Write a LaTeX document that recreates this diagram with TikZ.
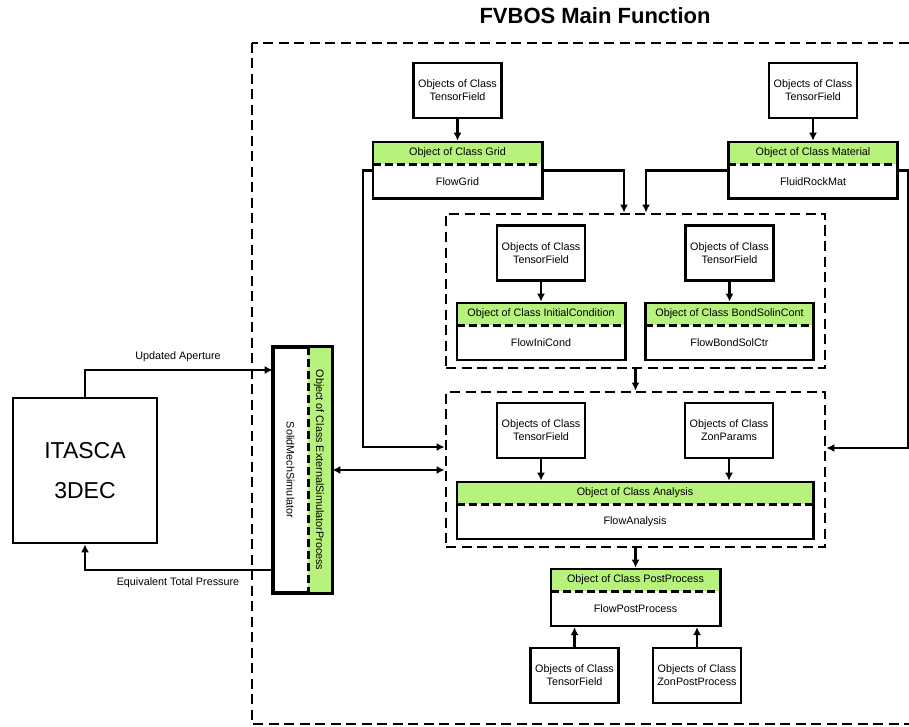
\documentclass[tikz,border=0pt]{standalone}
\usepackage{fontspec}
\setmainfont{Liberation Sans}
\usepackage{xcolor}
\usepackage{tikz}
\usetikzlibrary{positioning,fit,arrows.meta}

\definecolor{headgreen}{RGB}{182,242,124}

\tikzset{
    txt/.style={font=\fontsize{10.8}{13}\selectfont},
    objbox/.style={txt, draw, line width=2.6pt, fill=white, align=center,
        minimum width=88pt, minimum height=55pt, inner sep=2pt},
    clshead/.style={txt, fill=headgreen, minimum height=22pt, inner sep=0pt},
    clsbody/.style={txt, fill=white, minimum height=34pt, inner sep=0pt},
    boxline/.style={line width=2.6pt},
    sepline/.style={line width=2.6pt, dash pattern=on 8pt off 4pt},
    grpbox/.style={draw, line width=2.8pt, dash pattern=on 10pt off 5.5pt},
    link/.style={line width=2.5pt, -{Latex[length=8pt,width=8pt]}},
    dlink/.style={line width=2.5pt, {Latex[length=8pt,width=8pt]}-{Latex[length=8pt,width=8pt]}},
}

% class object: name, centre x, top y, width, class text, object text
\newcommand{\classobj}[6]{%
    \node[clshead, minimum width=#4, anchor=north] (#1h) at (#2,#3) {#5};
    \node[clsbody, minimum width=#4, below=0pt of #1h] (#1b) {#6};
    \draw[sepline] (#1h.south west) -- (#1h.south east);
    \node[draw, boxline, fit=(#1h)(#1b), inner sep=0pt] (#1) {};
}

\begin{document}
\begin{tikzpicture}[x=1pt,y=-1pt]
    \useasboundingbox (0,0) rectangle (909,727);

    % Title and main frame
    \node[font=\bfseries\fontsize{22}{26}\selectfont] (title) at (595,15.5) {FVBOS Main Function};
    \draw[grpbox] (252,43) rectangle (930,724);

    % Grid and material
    \node[objbox] (gridtf) at (457.5,90.5) {Objects of Class\\TensorField};
    \classobj{grid}{457.5}{142}{169pt}{Object of Class Grid}{FlowGrid}
    \node[objbox] (mattf) at (813,90.5) {Objects of Class\\TensorField};
    \classobj{mat}{813}{142}{169pt}{Object of Class Material}{FluidRockMat}

    % Initial and boundary conditions
    \node[grpbox, minimum width=379pt, minimum height=154pt] (initgrp) at (635.5,291) {};
    \node[objbox] (initf) at (541,253) {Objects of Class\\TensorField};
    \classobj{ini}{541}{303}{168pt}{Object of Class InitialCondition}{FlowIniCond}
    \node[objbox] (bsctf) at (729.5,253) {Objects of Class\\TensorField};
    \classobj{bsc}{729.5}{303}{168pt}{Object of Class BondSolinCont}{FlowBondSolCtr}

    % Analysis
    \node[grpbox, minimum width=379pt, minimum height=155pt] (anlgrp) at (635.5,469.5) {};
    \node[objbox] (antf) at (541,430.5) {Objects of Class\\TensorField};
    \node[objbox] (zontf) at (729,430.5) {Objects of Class\\ZonParams};
    \classobj{anl}{635}{482}{356pt}{Object of Class Analysis}{FlowAnalysis}

    % Post processing
    \classobj{post}{635.5}{569}{169pt}{Object of Class PostProcess}{FlowPostProcess}
    \node[objbox] (posttf) at (574.5,675.5) {Objects of Class\\TensorField};
    \node[objbox] (zonpost) at (697,675.5) {Objects of Class\\ZonPostProcess};

    % External simulator
    \node[draw, boxline, fill=white, minimum width=57pt, minimum height=244pt, inner sep=0pt] (esp) at (302.5,470) {};
    \fill[headgreen] ([xshift=-24pt]esp.north east) rectangle (esp.south east);
    \draw[boxline] (esp.north west) rectangle (esp.south east);
    \draw[sepline] ([xshift=-24pt]esp.north east) -- ([xshift=-24pt]esp.south east);
    \node[txt, rotate=-90] (espname) at ([xshift=-12pt]esp.center) {SolidMechSimulator};
    \node[txt, rotate=-90] (espcls) at ([xshift=16.5pt]esp.center) {Object of Class ExternalSimulatorProcess};

    % ITASCA
    \node[draw, boxline, minimum width=144pt, minimum height=145pt, align=center,
        font=\fontsize{23}{40}\selectfont] (itasca) at (85,470.5) {ITASCA\\3DEC};

    % Links
    \draw[link] (gridtf.south) -- (grid.north);
    \draw[link] (mattf.south) -- (mat.north);
    \draw[link] ([yshift=11pt]gridb.west) -- ++(-10,0) |- ([yshift=22.5pt]anlgrp.west);
    \draw[link] ([yshift=11pt]gridb.east) -| ([xshift=-11.5pt]initgrp.north);
    \draw[link] ([yshift=11pt]matb.west) -| ([xshift=10.5pt]initgrp.north);
    \draw[link] ([yshift=11pt]matb.east) -- ++(11,0) |- ([yshift=21.5pt]anlgrp.east);
    \draw[link] (initf.south) -- (ini.north);
    \draw[link] (bsctf.south) -- (bsc.north);
    \draw[link] (initgrp.south) -- (anlgrp.north);
    \draw[link] (antf.south) -- (antf.south |- anl.north);
    \draw[link] (zontf.south) -- (zontf.south |- anl.north);
    \draw[link] (anlgrp.south) -- (post.north);
    \draw[link] (posttf.north) -- (posttf.north |- post.south);
    \draw[link] (zonpost.north) -- (zonpost.north |- post.south);
    \draw[dlink] (esp.east) -- (esp.east -| anlgrp.west);

    % Coupling with 3DEC
    \draw[link] (itasca.north) |- ([yshift=100pt]esp.west);
    \draw[link] ([yshift=-100pt]esp.west) -| (itasca.south);
    \node[txt] (uplbl) at (178,357) {Updated Aperture};
    \node[txt] (eqlbl) at (178,583) {Equivalent Total Pressure};
\end{tikzpicture}
\end{document}
